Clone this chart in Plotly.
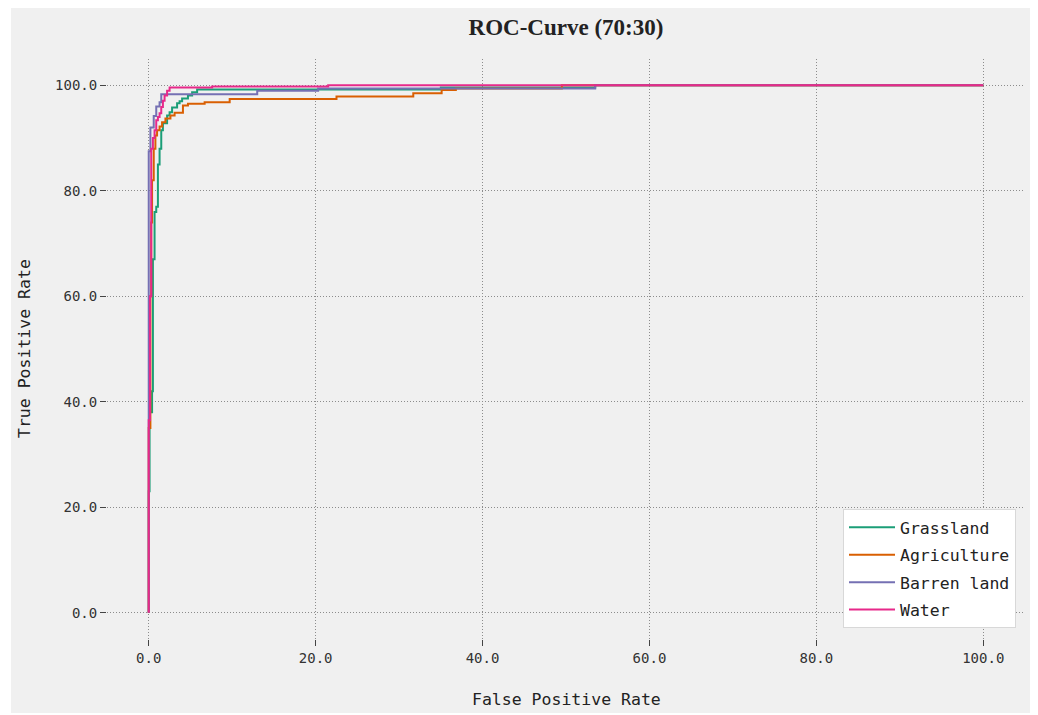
import plotly.graph_objects as go

# ROC vertices (FPR %, TPR %), drawn as vertical-then-horizontal steps
grass_fpr = [0, 0.1, 0.4, 0.5, 0.7, 0.9, 1.1, 1.3, 1.5, 1.7, 2.2, 2.5, 2.8, 3.4, 3.7, 4.0, 4.7, 5.2, 5.8, 35, 53.5, 100]
grass_tpr = [0, 23, 38, 42, 67, 76, 77, 85, 88, 91.5, 92.8, 94.3, 94.9, 95.8, 96.6, 97.0, 97.5, 98.1, 98.7, 99.2, 99.6, 100]

agri_fpr = [0, 0.2, 0.3, 0.4, 0.6, 0.8, 1.0, 1.3, 1.6, 2.0, 2.6, 3.1, 4.1, 4.7, 6.7, 9.7, 22.5, 31.7, 35.1, 36.8, 49.5, 100]
agri_tpr = [0, 35, 60, 74, 82, 88, 90.5, 91.5, 92.2, 93, 93.7, 94.3, 94.8, 96.2, 96.5, 96.8, 97.4, 97.9, 98.5, 99.1, 99.4, 100]

barren_fpr = [0, 0.2, 0.6, 0.9, 1.3, 1.5, 13, 20.3, 53.5, 100]
barren_tpr = [0, 87.5, 92, 94.2, 96, 96.8, 98.3, 99.0, 99.4, 100]

water_fpr = [0, 0.15, 0.3, 0.5, 0.7, 0.9, 1.1, 1.3, 1.5, 1.7, 1.9, 2.2, 2.5, 7.6, 21.5, 100]
water_tpr = [0, 36.5, 60, 88, 90, 91.5, 93.4, 94, 94.7, 95.9, 97.1, 98.1, 99, 99.6, 99.8, 100]

series_names = ["Grassland", "Agriculture", "Barren land", "Water"]
series_colors = ["#1b9e77", "#d95f02", "#7570b3", "#e7298a"]
tick_vals = [0, 20, 40, 60, 80, 100]

MONO = "DejaVu Sans Mono"

fig = go.Figure()
data = [(grass_fpr, grass_tpr), (agri_fpr, agri_tpr), (barren_fpr, barren_tpr), (water_fpr, water_tpr)]
for i, ((fx, ty), name, col) in enumerate(zip(data, series_names, series_colors)):
    fig.add_trace(go.Scatter(
        x=fx, y=ty, mode="lines", name=name, line=dict(color=col, width=2, shape="vh"),
        legendgroup=f"g{i}",
    ))

W, H = 1038, 715
L, R, T, B = 107, 13, 59, 76
pw, ph = W - L - R, H - T - B

def px_to_paper_x(px):
    return (px - L) / pw

def px_to_paper_y(py):
    return (H - B - py) / ph

fig.add_shape(type="rect", xref="paper", yref="paper",
              x0=px_to_paper_x(11), x1=px_to_paper_x(1030),
              y0=px_to_paper_y(713), y1=px_to_paper_y(8),
              fillcolor="#f0f0f0", line=dict(width=0), layer="below")

axis_common = dict(
    tickvals=tick_vals, tickformat=".1f", showgrid=True, gridcolor="#8c8c8c",
    griddash="1px,2px", gridwidth=1, zeroline=False, showline=False,
    ticks="outside", ticklen=6, tickwidth=1, tickcolor="#444",
    tickfont=dict(family=MONO, size=14, color="#333"),
)

fig.update_xaxes(range=[-5, 105], **axis_common)
fig.update_yaxes(range=[-5, 105], **axis_common)

fig.update_layout(
    width=W, height=H,
    margin=dict(l=L, r=R, t=T, b=B),
    paper_bgcolor="white", plot_bgcolor="#f0f0f0",
    title=dict(text="<b>ROC-Curve (70:30)</b>", x=px_to_paper_x(566), xref="paper",
               y=1 - 27 / H, yref="container", xanchor="center", yanchor="middle",
               font=dict(family="Liberation Serif", size=23, color="#222")),
    showlegend=True,
    legend=dict(x=px_to_paper_x(1016), y=px_to_paper_y(628), xanchor="right", yanchor="bottom",
                bgcolor="white", bordercolor="#d8d8d8", borderwidth=1,
                font=dict(family=MONO, size=16.5, color="#222"),
                traceorder="grouped", tracegroupgap=3, itemwidth=46),
    annotations=[
        dict(text="False Positive Rate", xref="paper", yref="paper", x=0.5, y=px_to_paper_y(699),
             xanchor="center", yanchor="middle", showarrow=False,
             font=dict(family=MONO, size=16.5, color="#222")),
        dict(text="True Positive Rate", xref="paper", yref="paper", x=px_to_paper_x(24), y=0.5,
             xanchor="center", yanchor="middle", textangle=-90, showarrow=False,
             font=dict(family=MONO, size=16.5, color="#222")),
    ],
)

fig.write_html("out.html")
